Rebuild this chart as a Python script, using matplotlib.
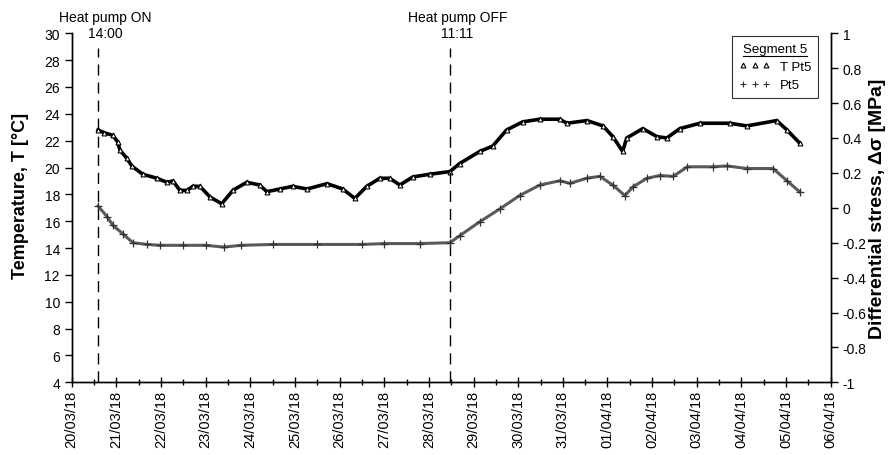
import numpy as np
import matplotlib
matplotlib.use("Agg")
import matplotlib.pyplot as plt
import matplotlib.dates as mdates
from matplotlib.lines import Line2D
import datetime as dt

plt.rcParams['font.family'] = ['Liberation Sans', 'DejaVu Sans']

start = dt.datetime(2018, 3, 20)

# Temperature T Pt5 (days since 20/03/18 00:00, degC)
t_days = [0.59, 0.72, 0.92, 1.03, 1.08, 1.23, 1.35, 1.59, 1.91, 2.13, 2.27, 2.42, 2.58,
          2.71, 2.87, 3.10, 3.36, 3.61, 3.92, 4.21, 4.37, 4.66, 4.95, 5.27, 5.72, 6.07,
          6.34, 6.61, 6.90, 7.12, 7.35, 7.64, 8.02, 8.47, 8.69, 9.14, 9.43, 9.74, 10.10,
          10.48, 10.93, 11.09, 11.54, 11.90, 12.12, 12.34, 12.43, 12.79, 13.11, 13.33,
          13.62, 14.07, 14.74, 15.12, 15.79, 16.02, 16.31]
t_vals = [22.8, 22.6, 22.4, 21.9, 21.3, 20.7, 20.1, 19.5, 19.2, 18.9, 19.0, 18.3, 18.3,
          18.6, 18.6, 17.8, 17.3, 18.3, 18.9, 18.7, 18.2, 18.4, 18.6, 18.4, 18.8, 18.4,
          17.7, 18.6, 19.2, 19.2, 18.7, 19.3, 19.5, 19.7, 20.3, 21.2, 21.6, 22.8, 23.4,
          23.6, 23.6, 23.3, 23.5, 23.1, 22.3, 21.2, 22.2, 22.9, 22.3, 22.2,
          22.9, 23.3, 23.3, 23.1, 23.5, 22.8, 21.8]

# Differential stress Pt5 (days, MPa)
p_days = [0.59, 0.79, 0.92, 1.15, 1.37, 1.69, 1.98, 2.5, 3.0, 3.4, 3.8, 4.5, 5.5, 6.5,
          7.0, 7.8, 8.47, 8.69, 9.14, 9.59, 10.03, 10.48, 10.93, 11.16, 11.54, 11.83,
          12.12, 12.39, 12.57, 12.89, 13.18, 13.47, 13.79, 14.37, 14.68, 15.12, 15.71,
          16.02, 16.31]
p_vals = [0.01, -0.05, -0.10, -0.15, -0.20, -0.21, -0.215, -0.215, -0.215, -0.225, -0.215,
          -0.21, -0.21, -0.21, -0.205, -0.205, -0.20, -0.16, -0.08, -0.006, 0.07, 0.13,
          0.155, 0.14, 0.17, 0.18, 0.13, 0.07, 0.12, 0.17, 0.185, 0.18, 0.235, 0.235,
          0.24, 0.225, 0.225, 0.155, 0.09]

events_days = [14 / 24, 8 + (11 + 11 / 60) / 24]
events_text = ["Heat pump ON\n14:00", "Heat pump OFF\n11:11"]

left_ticks = list(range(4, 31, 2))
right_ticks = [-1, -0.8, -0.6, -0.4, -0.2, 0, 0.2, 0.4, 0.6, 0.8, 1]
right_labels = ['-1', '-0.8', '-0.6', '-0.4', '-0.2', '0', '0.2', '0.4', '0.6', '0.8', '1']

def to_dates(days):
    return [start + dt.timedelta(days=d) for d in days]

fig = plt.figure(figsize=(8.92, 4.56), dpi=100)
ax = fig.add_axes([0.0804, 0.1594, 0.8509, 0.7654])
ax2 = ax.twinx()

ax.plot(to_dates(t_days), t_vals, color='black', lw=2.6, marker='^', ms=3.5,
        mfc='white', mec='black', mew=0.8, label='T Pt5')
ax2.plot(to_dates(p_days), p_vals, color='#5a5a5a', lw=2.2, marker='+', ms=5.5,
         mec='#333333', mew=0.9, label='Pt5')

for d in events_days:
    ax.plot([start + dt.timedelta(days=d)] * 2, [4, 28.9], color='black', lw=1.0,
            dashes=(8, 5))

for d, s in zip(events_days, events_text):
    x = start + dt.timedelta(days=d)
    ax.annotate(s, xy=(mdates.date2num(x), 30), xycoords='data', xytext=(5.5, -4.5),
                textcoords='offset points', ha='center', va='bottom', fontsize=10,
                linespacing=1.1, annotation_clip=False)

ax.set_xlim(start, start + dt.timedelta(days=17))
ax.set_ylim(4, 30)
ax2.set_ylim(-1, 1)
ax.set_yticks(left_ticks)
ax2.set_yticks(right_ticks)
ax2.set_yticklabels(right_labels)

ax.xaxis.set_major_locator(mdates.DayLocator())
ax.xaxis.set_minor_locator(mdates.HourLocator(byhour=[12]))
ax.xaxis.set_major_formatter(mdates.DateFormatter('%d/%m/%y'))
plt.setp(ax.get_xticklabels(), rotation=90)

ax.tick_params(axis='x', which='major', direction='inout', length=7, width=1, labelsize=10.5, pad=2)
ax.tick_params(axis='x', which='minor', direction='inout', length=4, width=1)
ax.tick_params(axis='y', direction='out', length=5, width=1, labelsize=10)
ax2.tick_params(axis='y', direction='out', length=5, width=1, labelsize=10)

for a in (ax, ax2):
    a.spines['top'].set_visible(False)
    for s in a.spines.values():
        s.set_linewidth(1.0)

ax.set_ylabel('Temperature, T [°C]', fontsize=13, fontweight='bold')
ax.yaxis.set_label_coords(-0.056, 0.537)
ax2.set_ylabel('Differential stress, Δσ [MPa]', fontsize=14, fontweight='bold',
               rotation=90)
ax2.yaxis.set_label_coords(1.050, 0.50)

hl1 = Line2D([], [], ls='none', marker='^', ms=3.5, mfc='white', mec='black', mew=0.8)
hl2 = Line2D([], [], ls='none', marker='+', ms=5, mec='#333333', mew=0.8)
leg = ax2.legend([hl1, hl2], ['T Pt5', 'Pt5'], title='Segment 5', loc='upper right',
                 bbox_to_anchor=(0.988, 1.003), numpoints=3, fontsize=9.5,
                 title_fontsize=9.5, frameon=True, fancybox=False, edgecolor='black',
                 handlelength=2.4, handletextpad=0.7, borderpad=0.5, labelspacing=0.45,
                 borderaxespad=0.3)
leg.get_frame().set_linewidth(0.8)

fig.canvas.draw()
tb = leg.get_title().get_window_extent(fig.canvas.get_renderer())
inv = fig.transFigure.inverted()
(x0, y0), (x1, _) = inv.transform([(tb.x0, tb.y0 - 1), (tb.x1, tb.y0 - 1)])
fig.add_artist(Line2D([x0, x1], [y0, y0], color='black', lw=0.8, transform=fig.transFigure))

fig.savefig('out.png', dpi=100)
